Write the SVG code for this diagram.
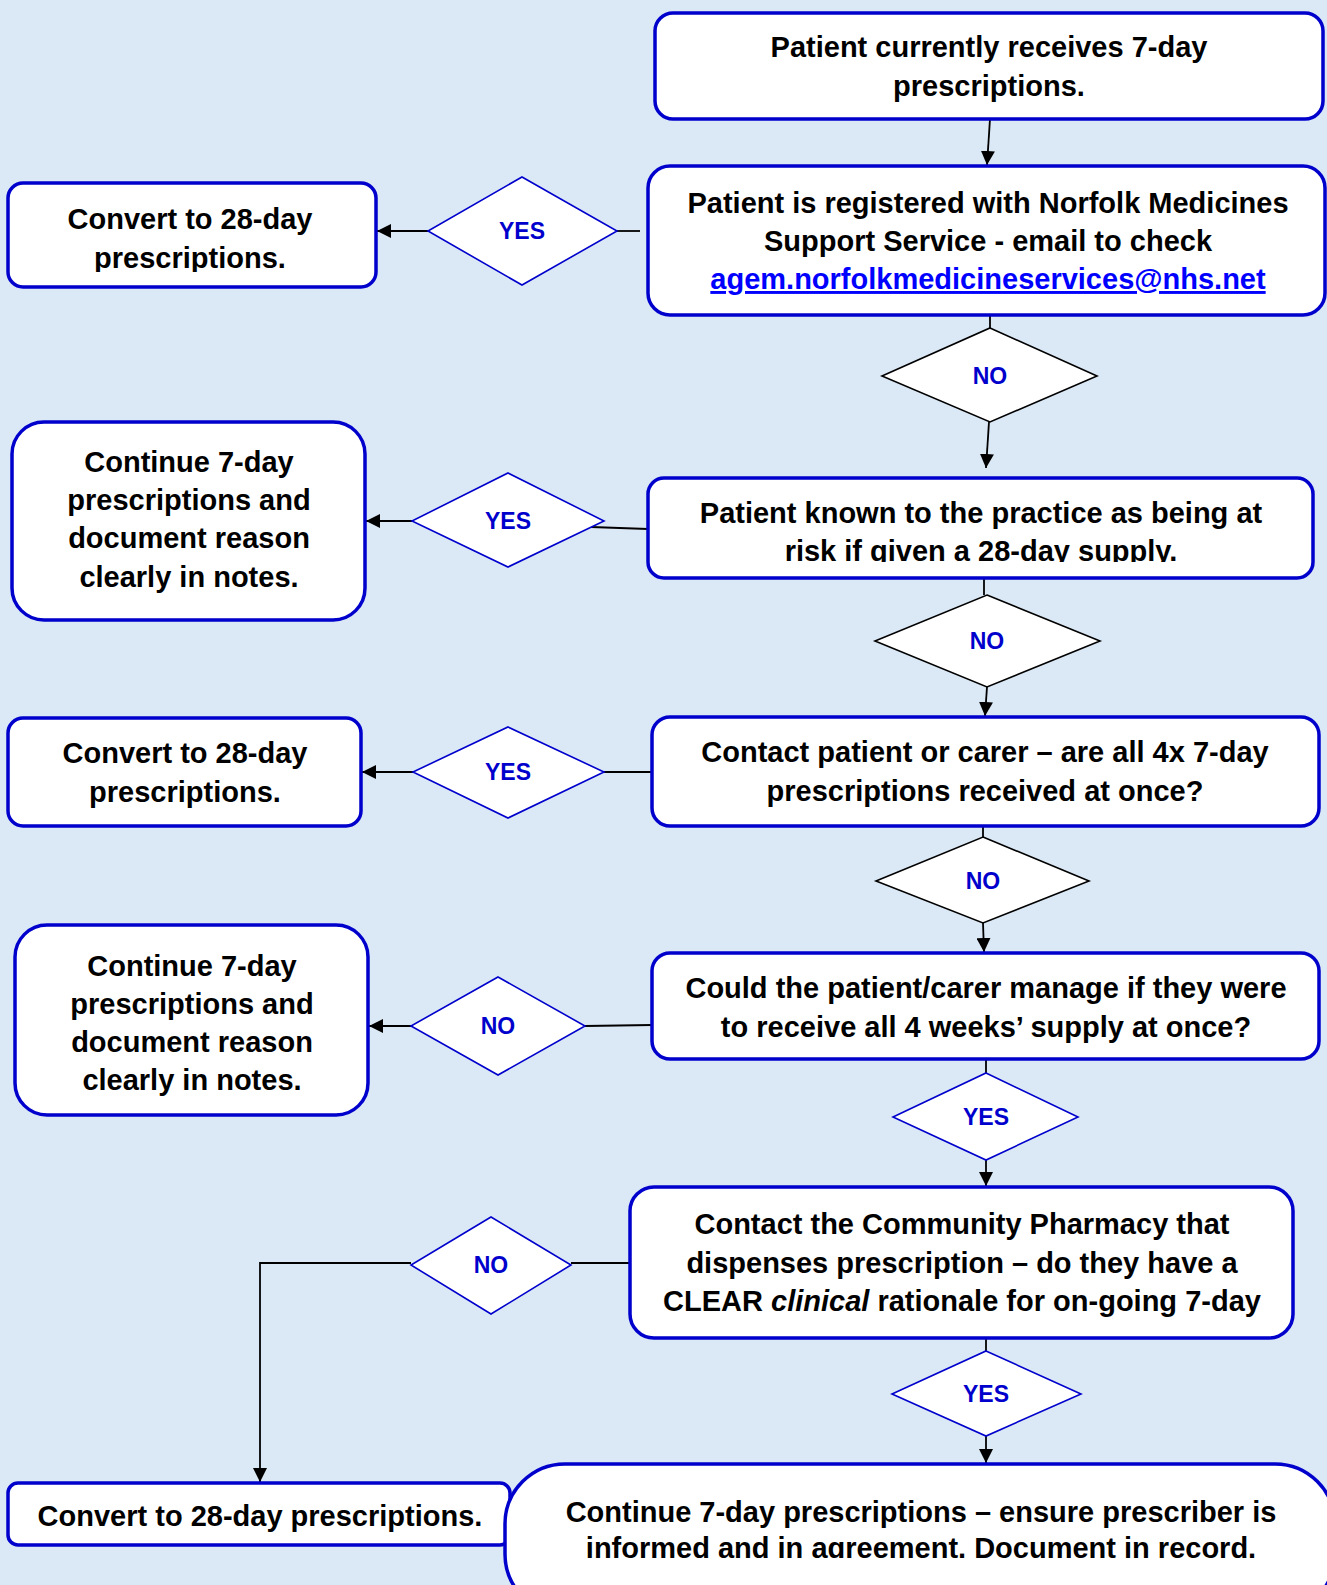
<svg xmlns="http://www.w3.org/2000/svg" width="1327" height="1585" viewBox="0 0 1327 1585">
<defs>
<style>
.box{fill:#ffffff;stroke:#0000cc;stroke-width:3.5}
.dia{fill:#ffffff;stroke:#0000cc;stroke-width:1.6}
.diak{fill:#ffffff;stroke:#000000;stroke-width:1.6}
.t{font-family:"Liberation Sans",Arial,sans-serif;font-weight:bold;font-size:29px;fill:#000000;text-anchor:middle}
.lbl{font-family:"Liberation Sans",Arial,sans-serif;font-weight:bold;font-size:23px;fill:#0000cc;text-anchor:middle}
.link{fill:#0000ff;text-decoration:underline}
.con{fill:none;stroke:#000000;stroke-width:1.8}
</style>
<marker id="ah" viewBox="0 0 14 14" refX="14" refY="7" markerWidth="14" markerHeight="14" markerUnits="userSpaceOnUse" orient="auto">
<path d="M0,0 L14,7 L0,14 z" fill="#000000"/>
</marker>
<clipPath id="cp1"><rect x="8" y="183" width="368" height="89"/></clipPath>
<clipPath id="cpC"><rect x="648" y="478" width="665" height="84"/></clipPath>
<clipPath id="cpH"><rect x="505" y="1464" width="822" height="94"/></clipPath>
</defs>
<rect x="0" y="0" width="1327" height="1585" fill="#dbe8f5"/>

<g id="connectors">
<path class="con" d="M990,119 L987,165" marker-end="url(#ah)"/>
<path class="con" d="M990,315 L990,328"/>
<path class="con" d="M989,422 L986,468" marker-end="url(#ah)"/>
<path class="con" d="M640,231 L617,231"/>
<path class="con" d="M428,231 L377,231" marker-end="url(#ah)"/>
<path class="con" d="M648,529 L591,527"/>
<path class="con" d="M412,521 L366,521" marker-end="url(#ah)"/>
<path class="con" d="M984,578 L984,595"/>
<path class="con" d="M987,687 L985,716" marker-end="url(#ah)"/>
<path class="con" d="M652,772 L604,772"/>
<path class="con" d="M413,772 L362,772" marker-end="url(#ah)"/>
<path class="con" d="M983,826 L983,837"/>
<path class="con" d="M983,923 L984,952" marker-end="url(#ah)"/>
<path class="con" d="M652,1025 L585,1026"/>
<path class="con" d="M411,1026 L369,1026" marker-end="url(#ah)"/>
<path class="con" d="M986,1059 L986,1073"/>
<path class="con" d="M986,1160 L986,1186" marker-end="url(#ah)"/>
<path class="con" d="M630,1263 L571,1263"/>
<path class="con" d="M411,1263 L260,1263 L260,1482" marker-end="url(#ah)"/>
<path class="con" d="M986,1338 L986,1351"/>
<path class="con" d="M986,1436 L986,1463" marker-end="url(#ah)"/>
</g>

<g id="start">
<rect class="box" x="655" y="13" width="668" height="106" rx="18"/>
<text class="t" x="989" y="57">Patient currently receives 7-day</text>
<text class="t" x="989" y="96">prescriptions.</text>
</g>

<g id="registered">
<rect class="box" x="648" y="166" width="677" height="149" rx="22"/>
<text class="t" x="988" y="213">Patient is registered with Norfolk Medicines</text>
<text class="t" x="988" y="251">Support Service - email to check</text>
<text class="t link" x="988" y="289">agem.norfolkmedicineservices@nhs.net</text>
</g>

<g id="yes1">
<polygon class="dia" points="522,177 617,231 522,285 428,231"/>
<text class="lbl" x="522" y="239">YES</text>
</g>

<g id="convert1">
<rect class="box" x="8" y="183" width="368" height="104" rx="15"/>
<g clip-path="url(#cp1)">
<text class="t" x="190" y="229">Convert to 28-day</text>
<text class="t" x="190" y="268">prescriptions.</text>
</g>
</g>

<g id="no1">
<polygon class="diak" points="990,328 1097,376 990,422 882,376"/>
<text class="lbl" x="990" y="384">NO</text>
</g>

<g id="atrisk">
<rect class="box" x="648" y="478" width="665" height="100" rx="16"/>
<g clip-path="url(#cpC)">
<text class="t" x="981" y="523">Patient known to the practice as being at</text>
<text class="t" x="981" y="561">risk if given a 28-day supply.</text>
</g>
</g>

<g id="yes2">
<polygon class="dia" points="508,473 604,521 508,567 412,521"/>
<text class="lbl" x="508" y="529">YES</text>
</g>

<g id="continue1">
<rect class="box" x="12" y="422" width="353" height="198" rx="32"/>
<text class="t" x="189" y="472">Continue 7-day</text>
<text class="t" x="189" y="510">prescriptions and</text>
<text class="t" x="189" y="548">document reason</text>
<text class="t" x="189" y="587">clearly in notes.</text>
</g>

<g id="no2">
<polygon class="diak" points="987,595 1100,641 987,687 875,641"/>
<text class="lbl" x="987" y="649">NO</text>
</g>

<g id="contact">
<rect class="box" x="652" y="717" width="667" height="109" rx="18"/>
<text class="t" x="985" y="762">Contact patient or carer – are all 4x 7-day</text>
<text class="t" x="985" y="801">prescriptions received at once?</text>
</g>

<g id="yes3">
<polygon class="dia" points="508,727 604,772 508,818 413,772"/>
<text class="lbl" x="508" y="780">YES</text>
</g>

<g id="convert2">
<rect class="box" x="8" y="718" width="353" height="108" rx="15"/>
<text class="t" x="185" y="763">Convert to 28-day</text>
<text class="t" x="185" y="802">prescriptions.</text>
</g>

<g id="no3">
<polygon class="diak" points="983,837 1089,881 983,923 876,881"/>
<text class="lbl" x="983" y="889">NO</text>
</g>

<g id="manage">
<rect class="box" x="652" y="953" width="667" height="106" rx="18"/>
<text class="t" x="986" y="998">Could the patient/carer manage if they were</text>
<text class="t" x="986" y="1037">to receive all 4 weeks’ supply at once?</text>
</g>

<g id="no4">
<polygon class="dia" points="498,977 585,1026 498,1075 411,1026"/>
<text class="lbl" x="498" y="1034">NO</text>
</g>

<g id="continue2">
<rect class="box" x="15" y="925" width="353" height="190" rx="32"/>
<text class="t" x="192" y="976">Continue 7-day</text>
<text class="t" x="192" y="1014">prescriptions and</text>
<text class="t" x="192" y="1052">document reason</text>
<text class="t" x="192" y="1090">clearly in notes.</text>
</g>

<g id="yes5">
<polygon class="dia" points="986,1073 1078,1117 986,1160 893,1117"/>
<text class="lbl" x="986" y="1125">YES</text>
</g>

<g id="pharmacy">
<rect class="box" x="630" y="1187" width="663" height="151" rx="24"/>
<text class="t" x="962" y="1234">Contact the Community Pharmacy that</text>
<text class="t" x="962" y="1273">dispenses prescription – do they have a</text>
<text class="t" x="962" y="1311">CLEAR <tspan font-style="italic">clinical</tspan> rationale for on-going 7-day</text>
</g>

<g id="no6">
<polygon class="dia" points="491,1217 571,1265 491,1314 411,1265"/>
<text class="lbl" x="491" y="1273">NO</text>
</g>

<g id="yes7">
<polygon class="dia" points="986,1351 1081,1394 986,1436 892,1394"/>
<text class="lbl" x="986" y="1402">YES</text>
</g>

<g id="convert3">
<rect class="box" x="8" y="1483" width="502" height="62" rx="10"/>
<text class="t" x="260" y="1526">Convert to 28-day prescriptions.</text>
</g>

<g id="continue3">
<rect class="box" x="505" y="1464" width="830" height="150" rx="60"/>
<g clip-path="url(#cpH)">
<text class="t" x="921" y="1522">Continue 7-day prescriptions – ensure prescriber is</text>
<text class="t" x="921" y="1558">informed and in agreement. Document in record.</text>
</g>
</g>
</svg>
